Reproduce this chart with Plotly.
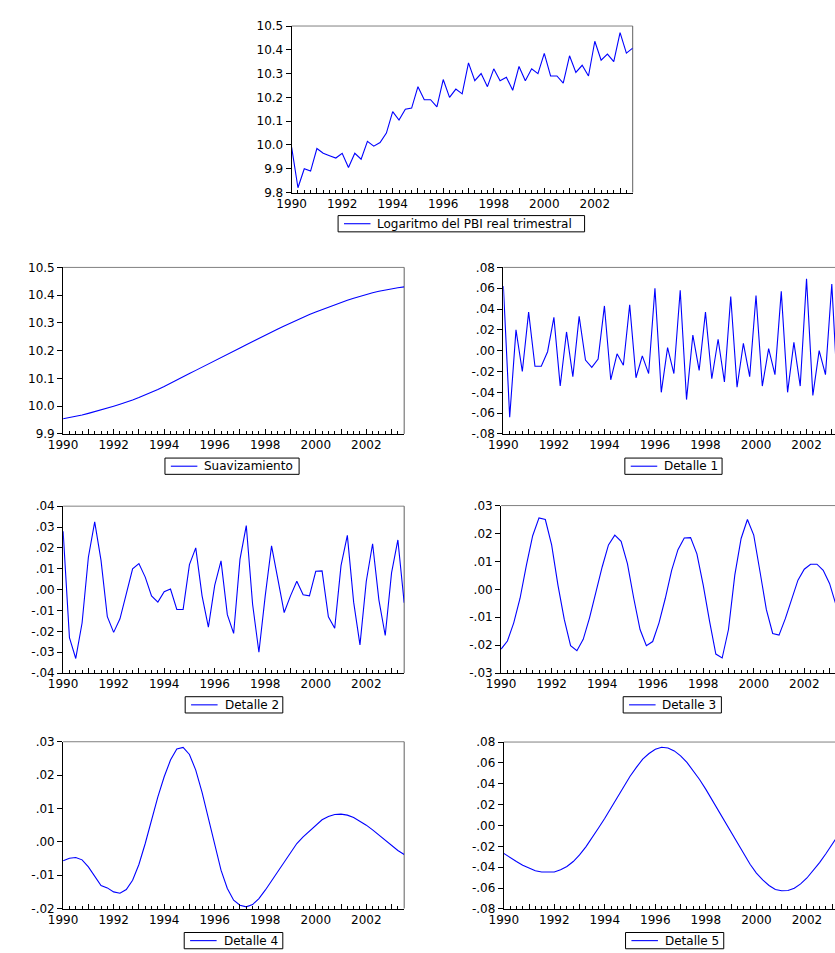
import plotly.graph_objects as go

# ---------------- data ----------------
periods = [f"{y}Q{q}" for y in range(1990, 2004) for q in range(1, 5)][:55]  # 1990Q1 .. 2003Q3

log_pbi = [9.99, 9.82, 9.90, 9.89, 9.985, 9.965, 9.955, 9.945, 9.965, 9.905,
           9.965, 9.94, 10.015, 9.995, 10.01, 10.05, 10.14, 10.105, 10.15, 10.155,
           10.245, 10.19, 10.19, 10.16, 10.275, 10.20, 10.235, 10.215, 10.345, 10.27,
           10.30, 10.245, 10.32, 10.27, 10.285, 10.23, 10.33, 10.27, 10.32, 10.30,
           10.385, 10.29, 10.29, 10.26, 10.375, 10.305, 10.335, 10.29, 10.436, 10.356,
           10.382, 10.35, 10.472, 10.386, 10.407]

suavizamiento = [9.955, 9.959, 9.963, 9.968, 9.974, 9.980, 9.986, 9.993, 10.000, 10.007,
                 10.014, 10.022, 10.031, 10.040, 10.050, 10.060, 10.071, 10.082, 10.094, 10.106,
                 10.118, 10.129, 10.141, 10.153, 10.165, 10.176, 10.188, 10.199, 10.210, 10.221,
                 10.233, 10.244, 10.255, 10.267, 10.278, 10.289, 10.300, 10.310, 10.320, 10.330,
                 10.339, 10.348, 10.357, 10.366, 10.374, 10.382, 10.389, 10.396, 10.403, 10.409,
                 10.414, 10.419, 10.423, 10.427, 10.430]

detalle1 = [.062, -.064, .020, -.020, .037, -.015, -.015, -.001, .032, -.034,
            .018, -.025, .033, -.009, -.016, -.008, .043, -.028, -.003, -.014,
            .044, -.026, -.005, -.022, .060, -.040, .003, -.022, .058, -.047,
            .015, -.019, .037, -.027, .011, -.030, .052, -.035, .007, -.025,
            .053, -.034, .002, -.023, .057, -.040, .008, -.034, .069, -.043,
            .000, -.023, .064, -.050, .000]

detalle2 = [.028, -.023, -.033, -.016, .0155, .0325, .014, -.013, -.0205, -.014,
            -.002, .010, .0125, .006, -.003, -.006, -.001, .0003, -.0095, -.0095,
            .012, .020, -.003, -.018, .002, .0138, -.012, -.021, .0145, .0307,
            -.007, -.030, -.003, .021, .005, -.011, -.003, .004, -.0025, -.003,
            .0088, .009, -.013, -.0185, .0115, .026, -.006, -.0265, .004, .022,
            -.005, -.022, .008, .0238, -.0063]

detalle3 = [-.0214, -.0185, -.012, -.0032, .0086, .0192, .0256, .025, .0159, .0015,
            -.0108, -.0202, -.022, -.0179, -.0102, -.0008, .008, .0159, .0194, .0172,
            .0092, -.0032, -.0144, -.0202, -.0187, -.012, -.0032, .0068, .0142, .0184,
            .0185, .0127, .0015, -.0114, -.0232, -.0246, -.0144, .0051, .0182, .025,
            .0194, .0062, -.0073, -.0158, -.0164, -.0105, -.0032, .0033, .0072, .009,
            .009, .0068, .0021, -.005, -.013]

detalle4 = [-.0057, -.0049, -.0047, -.0054, -.0075, -.0102, -.0131, -.0138, -.0150, -.0154,
            -.0143, -.0115, -.0068, -.0005, .0065, .0135, .0195, .0245, .0278, .0283,
            .0262, .0215, .0148, .0072, -.0005, -.0085, -.0140, -.0175, -.0190, -.0195,
            -.0188, -.0170, -.0145, -.0117, -.0088, -.0060, -.0032, -.0005, .0015, .0033,
            .0050, .0066, .0076, .0082, .0083, .0080, .0073, .0062, .0050, .0036,
            .0020, .0005, -.0012, -.0026, -.0038]

detalle5 = [-.0268, -.0309, -.0346, -.0381, -.0409, -.0435, -.0447, -.0450, -.0447, -.0425,
            -.0394, -.0346, -.0283, -.0205, -.0120, -.0025, .0069, .0170, .0274, .0375,
            .0472, .0557, .0636, .0690, .0731, .0750, .0743, .0715, .0668, .0605,
            .0526, .0441, .0346, .0243, .0139, .0031, -.0072, -.0176, -.0283, -.0372,
            -.0457, -.0523, -.0576, -.0614, -.0627, -.0624, -.0602, -.0561, -.0504, -.0435,
            -.0356, -.0271, -.0183, -.009, .000]

series_names = ["Logaritmo del PBI real trimestral", "Suavizamiento", "Detalle 1",
                "Detalle 2", "Detalle 3", "Detalle 4", "Detalle 5"]

year_ticks = list(range(1990, 2004))
year_labels = ["1990", "", "1992", "", "1994", "", "1996", "", "1998", "", "2000", "", "2002", ""]

y_top_vals = [9.8, 9.9, 10.0, 10.1, 10.2, 10.3, 10.4, 10.5]
y_top_text = ["9.8", "9.9", "10.0", "10.1", "10.2", "10.3", "10.4", "10.5"]
y_s_vals = [9.9, 10.0, 10.1, 10.2, 10.3, 10.4, 10.5]
y_s_text = ["9.9", "10.0", "10.1", "10.2", "10.3", "10.4", "10.5"]
y_08_vals = [-.08, -.06, -.04, -.02, 0, .02, .04, .06, .08]
y_08_text = ["-.08", "-.06", "-.04", "-.02", ".00", ".02", ".04", ".06", ".08"]
y_04_vals = [-.04, -.03, -.02, -.01, 0, .01, .02, .03, .04]
y_04_text = ["-.04", "-.03", "-.02", "-.01", ".00", ".01", ".02", ".03", ".04"]
y_03_vals = [-.03, -.02, -.01, 0, .01, .02, .03]
y_03_text = ["-.03", "-.02", "-.01", ".00", ".01", ".02", ".03"]
y_d4_vals = [-.02, -.01, 0, .01, .02, .03]
y_d4_text = ["-.02", "-.01", ".00", ".01", ".02", ".03"]

x = [int(p[:4]) + (int(p[-1]) - 1) / 4 for p in periods]

# ---------------- layout geometry (pixels) ----------------
W, H = 835, 953
FONT = "DejaVu Sans"
FS = 12
BLUE = "#0000FF"


def fx(px):
    return px / W


def fy(py):
    return 1 - py / H


# per panel: series, plot x (left,right), plot y (top,bottom), y range, ticks, tick text,
#            legend box (left,right,top), right side clipped by the window
panels = [
    (log_pbi, (281.7, 629.0), (19.3, 188.3), (9.8, 10.5), y_top_vals, y_top_text, (329.0, 580.0, 211.7), False),
    (suavizamiento, (49.0, 396.3), (264.3, 433.3), (9.9, 10.5), y_s_vals, y_s_text, (152.7, 289.3, 457.8), False),
    (detalle1, (497.3, 835.0), (264.3, 433.3), (-.08, .08), y_08_vals, y_08_text, (621.0, 720.0, 457.8), True),
    (detalle2, (49.0, 396.3), (506.6, 676.0), (-.04, .04), y_04_vals, y_04_text, (173.3, 272.7, 700.0), False),
    (detalle3, (495.0, 835.0), (506.0, 676.0), (-.03, .03), y_03_vals, y_03_text, (619.3, 719.3, 700.0), True),
    (detalle4, (49.0, 396.3), (745.7, 915.0), (-.02, .03), y_d4_vals, y_d4_text, (172.3, 272.7, 939.3), False),
    (detalle5, (497.7, 835.0), (746.0, 915.3), (-.08, .08), y_08_vals, y_08_text, (621.7, 721.7, 939.3), True),
]

QPX = 347.3 / 54  # pixels per quarter
LEG_H = 16.5

fig = go.Figure()
shapes = []
annotations = []
for k, (ser, (xl, xr), (yt, yb), yr, yv, ytx, (bl, br, bt), clipped) in enumerate(panels):
    name = series_names[k]
    n = "" if k == 0 else str(k + 1)
    xa, ya = "x" + n, "y" + n
    fig.add_trace(go.Scatter(x=x, y=ser, mode="lines", name=name,
                             line=dict(color=BLUE, width=1.1),
                             xaxis=xa, yaxis=ya, showlegend=False,
                             hoverinfo="skip"))
    x0 = x[0]
    x1 = x0 + (xr - xl) / QPX / 4
    fig.layout["xaxis" + n] = dict(
        domain=[fx(xl), fx(xr)], anchor=ya, range=[x0, x1],
        tickmode="array", tickvals=year_ticks, ticktext=year_labels,
        ticks="inside", ticklen=5, tickcolor="black", tickwidth=1,
        minor=dict(ticks="inside", ticklen=3, tickcolor="black", tickwidth=1,
                   tickmode="linear", tick0=1990, dtick=0.25),
        showline=True, linecolor="black", linewidth=1, mirror=False,
        showgrid=False, zeroline=False,
        tickfont=dict(family=FONT, size=FS, color="black"),
    )
    fig.layout["yaxis" + n] = dict(
        domain=[fy(yb), fy(yt)], anchor=xa, range=list(yr),
        tickmode="array", tickvals=yv, ticktext=ytx,
        ticks="outside", ticklen=5, tickcolor="black", tickwidth=1,
        showline=True, linecolor="black", linewidth=1, mirror=False,
        showgrid=False, zeroline=False,
        tickfont=dict(family=FONT, size=FS, color="black"),
    )
    # frame (top and right borders in grey)
    shapes.append(dict(type="line", xref="paper", yref="paper",
                       x0=fx(xl), x1=fx(xr), y0=fy(yt), y1=fy(yt),
                       line=dict(color="#808080", width=1), layer="below"))
    if not clipped:
        shapes.append(dict(type="line", xref="paper", yref="paper",
                           x0=fx(xr), x1=fx(xr), y0=fy(yb), y1=fy(yt),
                           line=dict(color="#606060", width=1), layer="below"))
    # legend box (drawn by hand so it can run off the bottom edge like the original)
    cy = bt + LEG_H / 2
    shapes.append(dict(type="rect", xref="paper", yref="paper",
                       x0=fx(bl), x1=fx(br), y0=fy(bt + LEG_H), y1=fy(bt),
                       line=dict(color="black", width=1), fillcolor="white", layer="above"))
    shapes.append(dict(type="line", xref="paper", yref="paper",
                       x0=fx(bl + 6), x1=fx(bl + 33), y0=fy(cy), y1=fy(cy),
                       line=dict(color=BLUE, width=1.1), layer="above"))
    annotations.append(dict(text=name, xref="paper", yref="paper",
                            x=fx(bl + 38), y=fy(cy), xanchor="left", yanchor="middle",
                            showarrow=False, font=dict(family=FONT, size=FS, color="black")))

fig.update_layout(
    width=W, height=H, autosize=False,
    margin=dict(l=0, r=0, t=0, b=0, pad=0),
    paper_bgcolor="white", plot_bgcolor="white",
    shapes=shapes, annotations=annotations,
    font=dict(family=FONT, size=FS, color="black"),
)

fig.write_html("out.html", config={"displayModeBar": False},
               post_script="document.body.style.margin='0';document.body.style.overflow='hidden';")
